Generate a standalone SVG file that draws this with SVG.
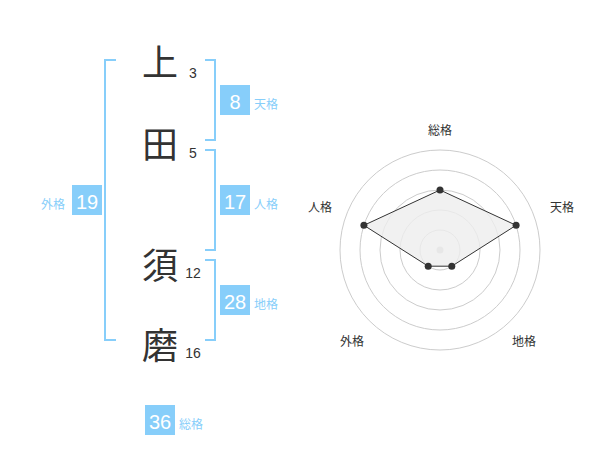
<svg xmlns="http://www.w3.org/2000/svg" width="600" height="470" viewBox="0 0 600 470">
<style>
text{font-family:"Liberation Sans","Noto Sans CJK JP",sans-serif}
.kanji{font-family:"Noto Sans CJK JP",sans-serif;font-size:36px;fill:#333;text-anchor:middle}
.strokes{font-size:14px;fill:#333;text-anchor:middle}
.box{fill:#87cefa}
.val{font-size:20px;fill:#fff;text-anchor:middle}
.lbl{font-family:"Noto Sans CJK JP",sans-serif;font-size:12px;fill:#87cefa}
.br{fill:none;stroke:#87cefa;stroke-width:2}
.ring{fill:none;stroke:#ccc;stroke-width:1}
.axis{font-family:"Noto Sans CJK JP",sans-serif;font-size:12px;fill:#333;text-anchor:middle}
.pt{fill:#333}
</style>
<rect width="600" height="470" fill="#fff"/>
<g id="connectors">
<path class="br" d="M116,60H105V340H116"/>
<path class="br" d="M205,60H215V140H205"/>
<path class="br" d="M205,150H215V250H205"/>
<path class="br" d="M205,260H215V340H205"/>
</g>
<g id="char1"><text class="kanji" x="160" y="76">上</text><text class="strokes" x="193" y="78">3</text></g>
<g id="char2"><text class="kanji" x="160" y="158">田</text><text class="strokes" x="193" y="158">5</text></g>
<g id="char3"><text class="kanji" x="160" y="279">須</text><text class="strokes" x="193" y="278">12</text></g>
<g id="char4"><text class="kanji" x="160" y="359">磨</text><text class="strokes" x="193" y="358">16</text></g>
<g id="tenkaku"><rect class="box" x="220" y="85" width="30" height="30"/><text class="val" x="235" y="109">8</text><text class="lbl" x="254" y="109">天格</text></g>
<g id="jinkaku"><rect class="box" x="220" y="185" width="30" height="30"/><text class="val" x="235" y="209">17</text><text class="lbl" x="254" y="209">人格</text></g>
<g id="chikaku"><rect class="box" x="220" y="285" width="30" height="30"/><text class="val" x="235" y="309">28</text><text class="lbl" x="254" y="309">地格</text></g>
<g id="gaikaku"><rect class="box" x="72" y="185" width="30" height="30"/><text class="val" x="87" y="209">19</text><text class="lbl" x="41" y="209">外格</text></g>
<g id="soukaku"><rect class="box" x="145" y="405" width="30" height="30"/><text class="val" x="160" y="429">36</text><text class="lbl" x="179" y="429">総格</text></g>
<g id="radar">
<circle class="ring" cx="440" cy="250" r="20"/>
<circle class="ring" cx="440" cy="250" r="40"/>
<circle class="ring" cx="440" cy="250" r="60"/>
<circle class="ring" cx="440" cy="250" r="80"/>
<circle class="ring" cx="440" cy="250" r="100"/>
<circle cx="440" cy="250" r="3.5" fill="#ccc"/>
<polygon points="440,190 516.1,225.3 451.8,266.2 428.2,266.2 363.9,225.3" fill="#eee" fill-opacity="0.8" stroke="#333" stroke-width="1"/>
<circle class="pt" cx="440" cy="190" r="3.5"/>
<circle class="pt" cx="516.1" cy="225.3" r="3.5"/>
<circle class="pt" cx="451.8" cy="266.2" r="3.5"/>
<circle class="pt" cx="428.2" cy="266.2" r="3.5"/>
<circle class="pt" cx="363.9" cy="225.3" r="3.5"/>
<text class="axis" x="440" y="135">総格</text>
<text class="axis" x="562" y="212">天格</text>
<text class="axis" x="320" y="212">人格</text>
<text class="axis" x="352" y="346">外格</text>
<text class="axis" x="524" y="346">地格</text>
</g>
</svg>
